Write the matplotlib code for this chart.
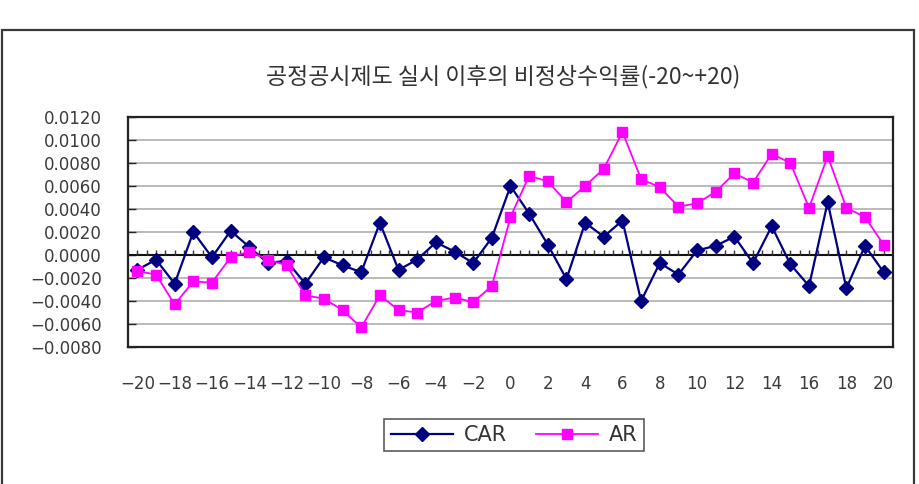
import matplotlib
matplotlib.use("Agg")
import matplotlib.pyplot as plt
import numpy as np
from matplotlib.patches import Rectangle

# event window days and abnormal return series
days = list(range(-20, 21))
car = [-0.0013, -0.0004, -0.0025, 0.0020, -0.0002, 0.0021, 0.0007, -0.0007, -0.0005, -0.0025,
       -0.0002, -0.0009, -0.0015, 0.0028, -0.0013, -0.0004, 0.0011, 0.0003, -0.0007, 0.0015,
       0.0060, 0.0036, 0.0009, -0.0021, 0.0028, 0.0016, 0.0030, -0.0040, -0.0007, -0.0017,
       0.0004, 0.0008, 0.0016, -0.0007, 0.0025, -0.0008, -0.0027, 0.0046, -0.0029, 0.0008,
       -0.0015]
ar = [-0.0014, -0.0017, -0.0043, -0.0023, -0.0024, -0.0002, 0.0003, -0.0004, -0.0009, -0.0035,
      -0.0038, -0.0048, -0.0063, -0.0035, -0.0048, -0.0050, -0.0040, -0.0037, -0.0041, -0.0027,
      0.0033, 0.0069, 0.0064, 0.0046, 0.0060, 0.0075, 0.0107, 0.0066, 0.0059, 0.0042,
      0.0045, 0.0055, 0.0071, 0.0063, 0.0088, 0.0080, 0.0041, 0.0086, 0.0041, 0.0033,
      0.0009]
x_ticks = list(range(-20, 21, 2))
y_ticks = [-0.008, -0.006, -0.004, -0.002, 0.0, 0.002, 0.004, 0.006, 0.008, 0.010, 0.012]
title = "공정공시제도 실시 이후의 비정상수익률(-20~+20)"

plt.rcParams["font.family"] = ["DejaVu Sans", "Noto Sans CJK KR"]

fig = plt.figure(figsize=(9.2, 4.84), dpi=100)
ax = fig.add_axes([128 / 920, 1 - 347 / 484, 765 / 920, 230 / 484])

# outer chart border
fig.patches.append(Rectangle((2 / 920, -0.02), 912 / 920, (484 - 30) / 484 + 0.02,
                             transform=fig.transFigure, fill=False,
                             edgecolor="#3a3a3a", linewidth=1.6))

ax.plot(days, car, color="#000080", linewidth=1.6, marker="D", markersize=7.5,
        label="CAR", zorder=3)
ax.plot(days, ar, color="#ff00ff", linewidth=1.3, marker="s", markersize=7.5,
        label="AR", zorder=4)

ax.set_xlim(-20.5, 20.5)
ax.set_ylim(-0.008, 0.012)
ax.set_yticks(y_ticks)
ax.set_yticklabels([f"{v:.4f}".replace("-", "\u2212") for v in y_ticks])
ax.set_xticks(x_ticks)
ax.set_xticklabels([str(v).replace("-", "\u2212") for v in x_ticks])

ax.yaxis.grid(True, color="#b4b4b4", linewidth=1.3)
ax.set_axisbelow(True)
ax.tick_params(axis="y", direction="in", length=6, width=1, pad=19,
               labelsize=12, labelcolor="#3a3a3a", color="#222222")
ax.tick_params(axis="x", length=0, pad=20, labelsize=12, labelcolor="#3a3a3a")

for sp in ax.spines.values():
    sp.set_color("#222222")
    sp.set_linewidth(1.6)

# zero line with small category ticks
ax.axhline(0, color="#111111", linewidth=1.5, zorder=2)
tick_pos = np.arange(-20.5, 20.51, 0.5)
ax.vlines(tick_pos, 0, 0.00045, colors="#333333", linewidth=1, zorder=2)

fig.text(503 / 920, 1 - 77 / 484, title, ha="center", va="center",
         fontsize=16.5, color="#333333", family=["Noto Sans CJK KR", "DejaVu Sans"])

leg = ax.legend(loc="center", bbox_to_anchor=(514 / 920, 1 - 435 / 484),
                bbox_transform=fig.transFigure, ncol=2, fontsize=15,
                frameon=True, fancybox=False, handlelength=3.0,
                columnspacing=1.4, borderpad=0.3, handletextpad=0.5)
leg.get_frame().set_edgecolor("#333333")
leg.get_frame().set_linewidth(1.2)
for t in leg.get_texts():
    t.set_color("#333333")

fig.savefig("out.png", dpi=100)
